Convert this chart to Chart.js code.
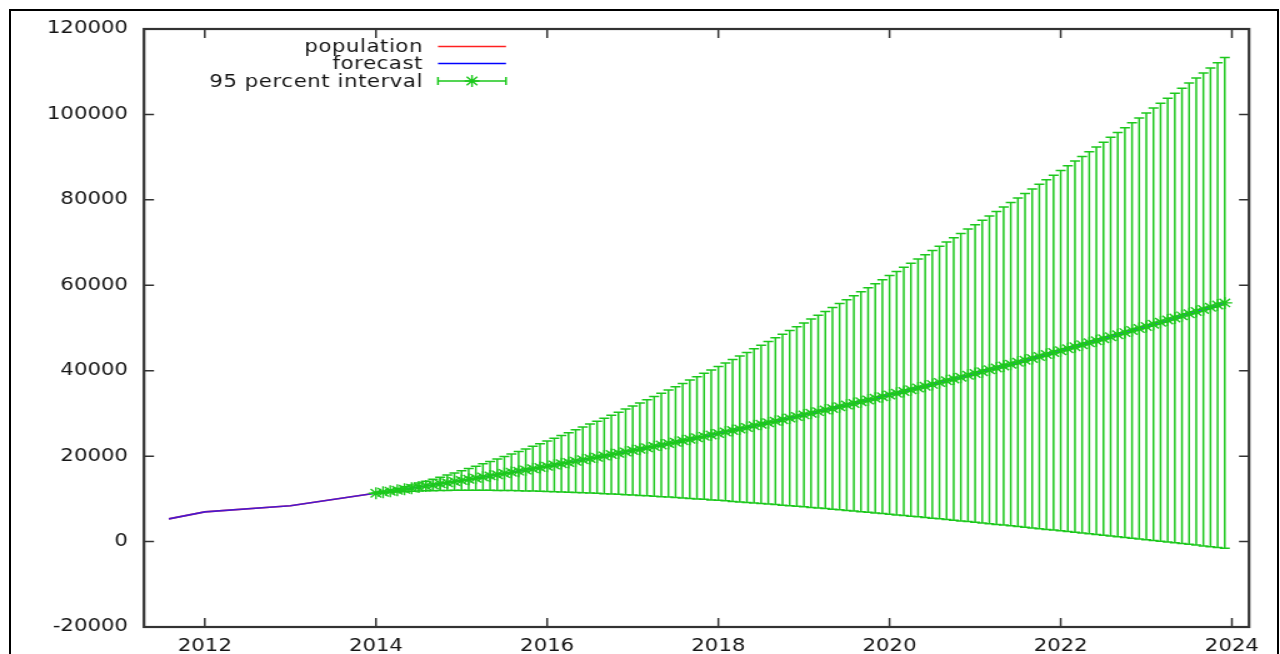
<!DOCTYPE html>
<html>
<head>
<meta charset="utf-8">
<title>population forecast</title>
<script src="https://cdn.jsdelivr.net/npm/chart.js@4.4.1/dist/chart.umd.min.js"></script>
<style>
  html, body { margin: 0; padding: 0; background: #fff; overflow: hidden; }
  body { width: 1280px; height: 654px; position: relative; }
  /* plot is drawn on a 1024px-wide canvas and widened to the page */
  #wrap { position: absolute; left: 0; top: 0; width: 1024px; height: 654px;
          transform: scaleX(1.25); transform-origin: 0 0; }
  #frame { position: absolute; left: 9px; top: 9px; width: 1266px; height: 700px;
           border: 2px solid #000; pointer-events: none; }
</style>
</head>
<body>
<div id="wrap"><canvas id="c"></canvas></div>
<div id="frame"></div>
<script>
// observed population (decimal years)
const popYears = [2011.58, 2012.0, 2013.0, 2013.95];
const population = [5330, 6970, 8380, 11200];

// monthly forecast from January 2014
const forecastStart = 2014;
const forecast = [
  11300, 11540, 11780, 12020, 12260, 12510, 12760, 13010, 13260, 13520,
  13780, 14040, 14300, 14570, 14840, 15110, 15380, 15650, 15930, 16210,
  16490, 16770, 17060, 17350, 17640, 17930, 18230, 18530, 18830, 19130,
  19430, 19740, 20050, 20360, 20680, 20990, 21310, 21630, 21960, 22280,
  22610, 22940, 23270, 23610, 23950, 24290, 24630, 24970, 25320, 25670,
  26020, 26370, 26730, 27090, 27450, 27810, 28180, 28540, 28910, 29290,
  29660, 30040, 30420, 30800, 31180, 31570, 31960, 32350, 32740, 33140,
  33530, 33930, 34340, 34740, 35150, 35560, 35970, 36380, 36800, 37220,
  37640, 38060, 38490, 38920, 39350, 39780, 40220, 40650, 41090, 41530,
  41980, 42430, 42870, 43330, 43780, 44240, 44690, 45150, 45620, 46080,
  46550, 47020, 47490, 47970, 48440, 48920, 49400, 49890, 50370, 50860,
  51350, 51850, 52340, 52840, 53340, 53840, 54350, 54850, 55360, 55880
];
// half width of the 95 percent interval for each forecast month
const intervalHalfWidth = [
  60, 150, 270, 410, 570, 750, 930, 1130, 1340, 1560,
  1800, 2040, 2290, 2550, 2820, 3090, 3380, 3670, 3970, 4270,
  4590, 4910, 5230, 5570, 5910, 6250, 6600, 6960, 7320, 7690,
  8070, 8450, 8830, 9230, 9620, 10020, 10430, 10840, 11260, 11680,
  12100, 12530, 12970, 13410, 13850, 14300, 14750, 15210, 15670, 16140,
  16610, 17080, 17560, 18040, 18530, 19020, 19520, 20010, 20510, 21020,
  21530, 22040, 22560, 23080, 23610, 24140, 24670, 25200, 25740, 26280,
  26830, 27380, 27930, 28490, 29050, 29610, 30180, 30750, 31320, 31900,
  32480, 33060, 33650, 34240, 34830, 35420, 36030, 36630, 37230, 37840,
  38450, 39070, 39690, 40310, 40930, 41550, 42180, 42820, 43450, 44090,
  44720, 45370, 46010, 46670, 47320, 47970, 48630, 49290, 49950, 50620,
  51290, 51960, 52630, 53310, 53990, 54670, 55360, 56040, 56730, 57430
];

const xTicks = [2012, 2014, 2016, 2018, 2020, 2022, 2024];
const yTicks = [-20000, 0, 20000, 40000, 60000, 80000, 100000, 120000];
const seriesNames = ['population', 'forecast', '95 percent interval'];

const RED = '#ff2020';
const BLUE = 'rgba(20,20,255,0.78)';
const GREEN = '#1cc81c';
const INK = '#151515';
const FONT = '"DejaVu Sans", Verdana, sans-serif';

const forecastX = forecast.map((_, i) => forecastStart + i / 12);
const popPoints = popYears.map((x, i) => ({ x, y: population[i] }));
const fcPoints = forecast.map((y, i) => ({ x: forecastX[i], y }));

// vertical interval bars with caps, drawn just before the asterisk markers
const intervalBars = {
  id: 'intervalBars',
  beforeDatasetDraw(chart, args) {
    if (args.index !== 2) return;
    const { ctx, scales: { x, y }, chartArea } = chart;
    ctx.save();
    ctx.beginPath();
    ctx.rect(chartArea.left, chartArea.top, chartArea.right - chartArea.left, chartArea.bottom - chartArea.top);
    ctx.clip();
    ctx.strokeStyle = GREEN;
    ctx.lineWidth = 1.5;
    forecast.forEach((v, i) => {
      const px = x.getPixelForValue(forecastX[i]);
      const lo = y.getPixelForValue(v - intervalHalfWidth[i]);
      const hi = y.getPixelForValue(v + intervalHalfWidth[i]);
      ctx.beginPath();
      ctx.moveTo(px, lo); ctx.lineTo(px, hi);
      ctx.moveTo(px - 4, lo); ctx.lineTo(px + 4, lo);
      ctx.moveTo(px - 4, hi); ctx.lineTo(px + 4, hi);
      ctx.stroke();
    });
    ctx.restore();
  }
};

// plot border with inward tick marks on all four sides
const plotFrame = {
  id: 'plotFrame',
  afterDraw(chart) {
    const { ctx, chartArea: a, scales: { x, y } } = chart;
    ctx.save();
    ctx.strokeStyle = '#333';
    ctx.lineWidth = 1.5;
    ctx.beginPath();
    xTicks.forEach(v => {
      const px = x.getPixelForValue(v);
      ctx.moveTo(px, a.bottom); ctx.lineTo(px, a.bottom - 9);
      ctx.moveTo(px, a.top); ctx.lineTo(px, a.top + 9);
    });
    yTicks.forEach(v => {
      const py = y.getPixelForValue(v);
      ctx.moveTo(a.left, py); ctx.lineTo(a.left + 8, py);
      ctx.moveTo(a.right, py); ctx.lineTo(a.right - 8, py);
    });
    ctx.stroke();
    ctx.lineWidth = 2.2;
    ctx.strokeRect(a.left, a.top, a.right - a.left, a.bottom - a.top);
    ctx.restore();
  }
};

// key in the upper left corner: right-aligned names, sample to the right
const keyBox = {
  id: 'keyBox',
  afterDraw(chart) {
    const { ctx } = chart;
    const textRight = 338.4, x0 = 350.4, x1 = 404.8, rows = [46.5, 63.5, 81];
    ctx.save();
    ctx.font = '17px ' + FONT;
    ctx.letterSpacing = '0.45px';
    ctx.fillStyle = INK;
    ctx.textAlign = 'right';
    ctx.textBaseline = 'middle';
    seriesNames.forEach((name, i) => ctx.fillText(name, textRight, rows[i] + 1.5));
    ctx.letterSpacing = '0px';
    ctx.lineWidth = 1.5;
    ctx.strokeStyle = RED;
    ctx.beginPath(); ctx.moveTo(x0, rows[0]); ctx.lineTo(x1, rows[0]); ctx.stroke();
    ctx.strokeStyle = 'rgb(0,0,255)';
    ctx.beginPath(); ctx.moveTo(x0, rows[1]); ctx.lineTo(x1, rows[1]); ctx.stroke();
    ctx.strokeStyle = GREEN;
    ctx.beginPath();
    ctx.moveTo(x0, rows[2]); ctx.lineTo(x1, rows[2]);
    ctx.moveTo(x0, rows[2] - 4); ctx.lineTo(x0, rows[2] + 4);
    ctx.moveTo(x1, rows[2] - 4); ctx.lineTo(x1, rows[2] + 4);
    ctx.stroke();
    // asterisk marker in the middle of the interval sample
    ctx.strokeStyle = GREEN;
    ctx.fillStyle = GREEN;
    ctx.lineWidth = 1.4;
    Chart.helpers.drawPoint(ctx, { pointStyle: 'star', radius: 6, borderWidth: 1.4 }, (x0 + x1) / 2, rows[2]);
    ctx.restore();
  }
};

new Chart(document.getElementById('c'), {
  type: 'scatter',
  data: {
    datasets: [
      { label: seriesNames[0], data: popPoints, showLine: true, borderColor: RED,
        borderWidth: 1.7, pointRadius: 0, pointHoverRadius: 0, order: 3 },
      { label: seriesNames[1], data: popPoints.concat(fcPoints), showLine: true, borderColor: BLUE,
        borderWidth: 1.7, pointRadius: 0, pointHoverRadius: 0, order: 2 },
      { label: seriesNames[2], data: fcPoints, showLine: false, pointStyle: 'star',
        pointRadius: 6, pointBorderWidth: 1.4, borderColor: GREEN, backgroundColor: GREEN, order: 1 }
    ]
  },
  options: {
    responsive: true,
    maintainAspectRatio: false,
    animation: false,
    events: [],
    layout: { padding: { top: 29, right: 24.8, left: 0, bottom: 0 } },
    plugins: { legend: { display: false }, tooltip: { enabled: false } },
    scales: {
      x: {
        type: 'linear', min: 2011.29, max: 2024.2,
        afterBuildTicks: s => { s.ticks = xTicks.map(v => ({ value: v })); },
        afterFit: s => { s.height = 27; },
        grid: { display: false, drawTicks: false },
        border: { display: false },
        ticks: { padding: 9, color: INK, autoSkip: false, maxRotation: 0,
                 font: { family: FONT, size: 17 }, callback: v => String(v) }
      },
      y: {
        type: 'linear', min: -20000, max: 120000,
        afterBuildTicks: s => { s.ticks = yTicks.map(v => ({ value: v })); },
        afterFit: s => { s.width = 115.2; },
        grid: { display: false, drawTicks: false },
        border: { display: false },
        ticks: { padding: 12.8, color: INK, autoSkip: false,
                 font: { family: FONT, size: 17 }, callback: v => String(v) }
      }
    }
  },
  plugins: [intervalBars, plotFrame, keyBox]
});
</script>
</body>
</html>
